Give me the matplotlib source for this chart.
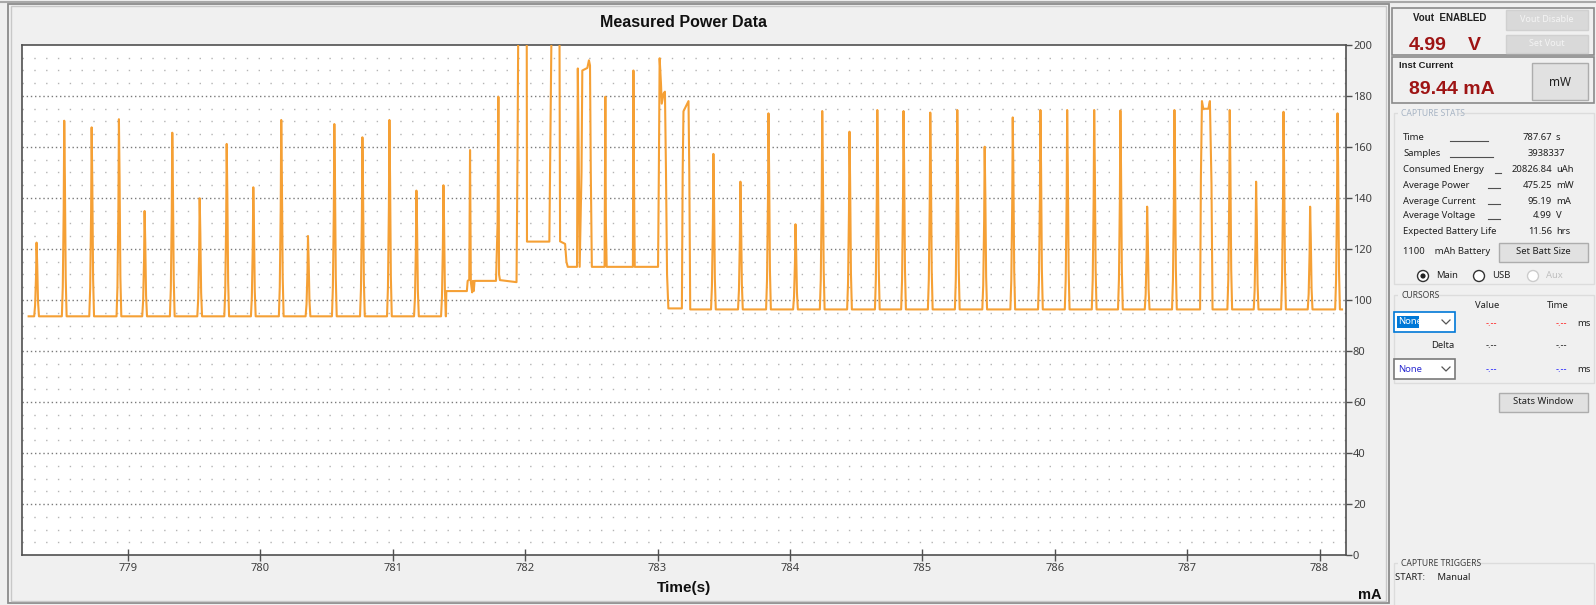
import numpy as np
import matplotlib
matplotlib.use("Agg")
import matplotlib.pyplot as plt
from matplotlib.patches import Rectangle, Circle

plt.rcParams['lines.scale_dashes'] = False

# ---- data ----
# spikes on the first baseline (time s, peak mA)
spk1_t = [778.310, 778.519, 778.726, 778.932, 779.126, 779.335, 779.542, 779.746,
          779.947, 780.158, 780.360, 780.559, 780.771, 780.975, 781.179, 781.383]
spk1_ma = [122.5, 170.3, 167.7, 170.9, 134.9, 165.6, 139.9, 161.2,
           144.2, 170.6, 125.1, 169.0, 163.8, 170.6, 142.9, 145.0]
base1_ma = 93.6

# busy middle part, vertex by vertex
mid_t = [781.402, 781.405, 781.560, 781.566, 781.578, 781.584, 781.590, 781.600,
         781.606, 781.612, 781.618, 781.780, 781.792, 781.798, 781.803, 781.810,
         781.935, 781.943, 781.949, 782.012, 782.014, 782.183, 782.190, 782.201,
         782.259, 782.264, 782.302, 782.312, 782.322, 782.392, 782.398, 782.406,
         782.412, 782.426, 782.432, 782.470, 782.482, 782.490, 782.496, 782.504,
         782.600, 782.606, 782.610, 782.616, 782.814, 782.818, 782.822, 782.828,
         783.004, 783.010, 783.016, 783.026, 783.032, 783.046, 783.056, 783.064,
         783.072, 783.082, 783.184, 783.190, 783.196, 783.215, 783.234, 783.240,
         783.247]
mid_ma = [93.6, 103.5, 103.5, 107.5, 108.0, 158.8, 107.0, 103.0,
          107.5, 103.5, 107.5, 107.5, 130.0, 179.7, 110.0, 107.8,
          107.0, 160.0, 215.0, 215.0, 122.9, 122.9, 160.0, 215.0,
          215.0, 123.0, 122.0, 115.0, 113.0, 113.0, 190.8, 150.0,
          113.0, 150.0, 190.0, 191.0, 194.0, 192.0, 150.0, 113.0,
          113.0, 179.7, 130.0, 113.0, 113.0, 190.0, 150.0, 113.0,
          113.0, 150.0, 194.8, 185.0, 177.0, 181.0, 181.7, 150.0,
          110.0, 96.7, 96.7, 150.0, 174.0, 176.0, 178.0, 150.0,
          96.3]

# spikes on the second baseline
spk2_t = [783.422, 783.626, 783.838, 784.042, 784.244, 784.450, 784.660, 784.858,
          785.060, 785.264, 785.471, 785.683, 785.892, 786.094, 786.298, 786.496,
          786.698, 786.904, 787.322, 787.521, 787.728, 787.929, 788.136]
spk2_ma = [157.3, 146.4, 173.2, 129.7, 174.1, 166.0, 174.5, 174.1,
           173.5, 174.5, 160.1, 171.6, 174.5, 174.5, 174.5, 174.3,
           136.6, 174.5, 174.5, 146.4, 173.8, 136.6, 173.2]
base2_ma = 96.3

# double-topped pulse near 787.1 s
m_t = [787.098, 787.104, 787.112, 787.122, 787.140, 787.160, 787.172, 787.184, 787.192]
m_ma = [96.3, 147.7, 178.0, 175.0, 175.0, 175.0, 178.0, 145.7, 96.3]

t_start, t_end = 778.25, 788.17

x_ticks = [779, 780, 781, 782, 783, 784, 785, 786, 787, 788]
y_ticks = [0, 20, 40, 60, 80, 100, 120, 140, 160, 180, 200]

stats_rows = [("Time", "787.67", "s"), ("Samples", "3938337", ""),
              ("Consumed Energy", "20826.84", "uAh"), ("Average Power", "475.25", "mW"),
              ("Average Current", "95.19", "mA"), ("Average Voltage", "4.99", "V"),
              ("Expected Battery Life", "11.56", "hrs")]


def spike_trace(t0, base, times, peaks, t1=None):
    # narrow pulse drawn through a few vertices around each read peak
    offs = [-0.018, -0.011, -0.004, 0.0, 0.005, 0.011, 0.018]
    frac = [0.0, 0.15, 0.55, 1.0, 0.7, 0.2, 0.0]
    tt, yy = [t0], [base]
    for t, p in zip(times, peaks):
        for o, f in zip(offs, frac):
            tt.append(t + o)
            yy.append(base + f * (p - base))
    if t1 is not None:
        tt.append(t1)
        yy.append(base)
    return tt, yy


t1, y1 = spike_trace(t_start, base1_ma, spk1_t, spk1_ma)
t2, y2 = spike_trace(783.250, base2_ma, spk2_t, spk2_ma, t_end)
# slot the double pulse into the second stretch (flat there)
t2 = np.array(t2 + m_t)
y2 = np.array(y2 + m_ma)
o2 = np.argsort(t2, kind='stable')
tt = np.concatenate([t1, mid_t, t2[o2]])
yy = np.concatenate([y1, mid_ma, y2[o2]])

# ---- figure ----
W, H = 1596, 605
fig = plt.figure(figsize=(W / 100, H / 100), dpi=100, facecolor='#f0f0f0')

ui = fig.add_axes([0, 0, 1, 1])
ui.set_xlim(0, W)
ui.set_ylim(H, 0)
ui.axis('off')

ui_font = ['Noto Sans', 'DejaVu Sans']
bold_font = ['Liberation Sans', 'DejaVu Sans']


def box(x0, y0, x1, y1, fc='none', ec='#adadad', lw=1.0, z=1):
    ui.add_patch(Rectangle((x0, y0), x1 - x0, y1 - y0, facecolor=fc,
                           edgecolor=ec, lw=lw, zorder=z))


def txt(x, y, s, size=6.8, color='#202020', ha='left', weight='normal', fam=None, z=3):
    ui.text(x, y, s, fontsize=size, color=color, ha=ha, va='center',
            fontweight=weight, family=fam or ui_font, zorder=z)


# chart panel frame
ui.plot([0, W], [2, 2], color='#a8a8a8', lw=1.5)
box(8, 4, 1389, 603, ec='#8c8c8c', lw=1.3)
box(11, 6, 1386, 601, ec='#c8c8c8', lw=1.0)

# right control panel
box(1392, 8, 1594, 55, ec='#8a8a8a', lw=1.2)
txt(1413, 18, "Vout  ENABLED", size=7, weight='bold', fam=bold_font)
box(1506, 10, 1588, 30, fc='#d9d9d9', ec='#d0d0d0')
txt(1547, 20, "Vout Disable", size=6.5, color='#f4f4f4', ha='center')
txt(1409, 45, "4.99", size=14, color='#9e1414', weight='bold', fam=bold_font)
txt(1468, 45, "V", size=14, color='#9e1414', weight='bold', fam=bold_font)
box(1506, 35, 1588, 53, fc='#d9d9d9', ec='#d0d0d0')
txt(1547, 44, "Set Vout", size=6.5, color='#f4f4f4', ha='center')

box(1392, 57, 1594, 103, ec='#8a8a8a', lw=1.2)
txt(1399, 66, "Inst Current", size=6.8, weight='bold', fam=bold_font)
txt(1409, 90, "89.44 mA", size=14, color='#9e1414', weight='bold', fam=bold_font)
box(1532, 63, 1588, 100, fc='#e1e1e1', ec='#adadad')
txt(1560, 82, "mW", size=8.5, ha='center')

# capture stats group
box(1394, 113, 1594, 284, ec='#dcdcdc')
ui.add_patch(Rectangle((1398, 108), 60, 10, facecolor='#f0f0f0', edgecolor='none', zorder=2))
txt(1401, 113, "CAPTURE STATS", size=6.2, color='#a7b4c4')
row_y = [138, 154, 170, 185, 201, 216, 231]
row_line = [(1450, 1488), (1450, 1493), (1495, 1501), (1488, 1500), (1488, 1500), (1488, 1500), None]
for (lab, val, unit), y, ln in zip(stats_rows, row_y, row_line):
    txt(1403, y, lab)
    if ln:
        ui.plot(ln, [y + 3, y + 3], color='#505050', lw=0.8, zorder=3)
    if unit:
        txt(1552, y, val, ha='right')
        txt(1556, y, unit)
    else:
        txt(1565, y, val, ha='right')
txt(1403, 252, "1100    mAh Battery")
box(1499, 243, 1588, 262, fc='#e1e1e1', ec='#adadad')
txt(1543, 252, "Set Batt Size", ha='center')
for cx, lab, col in [(1423, "Main", '#202020'), (1479, "USB", '#202020'), (1533, "Aux", '#c0c0c0')]:
    ui.add_patch(Circle((cx, 276), 5.5, facecolor='white', edgecolor='#333333' if col != '#c0c0c0' else '#cccccc',
                        lw=1.0, zorder=3))
    txt(cx + 13, 276, lab, color=col)
ui.add_patch(Circle((1423, 276), 2.6, facecolor='#222222', edgecolor='none', zorder=4))

# cursors group
box(1394, 295, 1594, 383, ec='#dcdcdc')
ui.add_patch(Rectangle((1398, 290), 36, 10, facecolor='#f0f0f0', edgecolor='none', zorder=2))
txt(1401, 295, "CURSORS", size=6.2, color='#404040')
txt(1487, 305, "Value", ha='center')
txt(1558, 305, "Time", ha='center')
for y0, ec, hl in [(312, '#0078d7', True), (359, '#7a7a7a', False)]:
    box(1394, y0, 1455, y0 + 20, fc='white', ec=ec, lw=1.2, z=3)
    if hl:
        ui.add_patch(Rectangle((1397, y0 + 4), 22, 12, facecolor='#0078d7', edgecolor='none', zorder=4))
        txt(1398, y0 + 10, "None", color='white', z=5)
    else:
        txt(1398, y0 + 10, "None", color='#2a2ad0', z=5)
    ui.plot([1442, 1446, 1450], [y0 + 8, y0 + 12, y0 + 8], color='#555555', lw=0.9, zorder=5)
txt(1491, 323, "-.--", color='#ff2020', ha='center')
txt(1561, 323, "-.--", color='#ff2020', ha='center')
txt(1577, 323, "ms")
txt(1443, 346, "Delta", ha='center')
txt(1491, 346, "-.--", ha='center')
txt(1561, 346, "-.--", ha='center')
txt(1491, 369, "-.--", color='#2020ff', ha='center')
txt(1561, 369, "-.--", color='#2020ff', ha='center')
txt(1577, 369, "ms")
box(1499, 393, 1588, 412, fc='#e1e1e1', ec='#adadad')
txt(1543, 402, "Stats Window", ha='center')

box(1394, 563, 1594, 610, ec='#dcdcdc')
ui.add_patch(Rectangle((1398, 558), 72, 10, facecolor='#f0f0f0', edgecolor='none', zorder=2))
txt(1401, 563, "CAPTURE TRIGGERS", size=6.2, color='#404040')
txt(1395, 577, "START:     Manual")

txt(1358, 595, "mA", size=10.5, color='#101010', weight='bold', fam=bold_font)

# ---- plot area ----
ax = fig.add_axes([22 / W, 1 - 555 / H, (1346 - 22) / W, 510 / H])
ax.set_facecolor('white')
ax.set_xlim(778.2, 788.2)
ax.set_ylim(0, 200)

# dotted grid: dense dots every 20 mA, sparse dots every 5 mA
for v in np.arange(5, 200, 5):
    if v % 20 == 0:
        ax.axhline(v, color='#7a7a7a', lw=1.0, dashes=(1.0, 2.0), zorder=1)
    else:
        ax.axhline(v, color='#b4b4b4', lw=1.0, dashes=(1.0, 7.5), zorder=1)

ax.plot(tt, yy, color='#f5a035', lw=1.5, zorder=3)

for s in ax.spines.values():
    s.set_color('#505050')
    s.set_linewidth(1.2)

ax.set_xticks(x_ticks)
ax.set_yticks(y_ticks)
ax.yaxis.tick_right()
ax.tick_params(axis='x', direction='inout', length=8, width=1, color='#505050',
               labelsize=8, labelcolor='#404040', pad=2)
ax.tick_params(axis='y', direction='out', length=4, width=1, color='#505050',
               labelsize=8, labelcolor='#404040', pad=1)
for lab in ax.get_xticklabels() + ax.get_yticklabels():
    lab.set_family(ui_font)

ax.set_title("Measured Power Data", fontsize=11.5, fontweight='bold',
             family=bold_font, color='#101010', pad=13)
ax.set_xlabel("Time(s)", fontsize=11, fontweight='bold', family=bold_font,
              color='#101010', labelpad=5)

fig.savefig("out.png", dpi=100, facecolor=fig.get_facecolor())
